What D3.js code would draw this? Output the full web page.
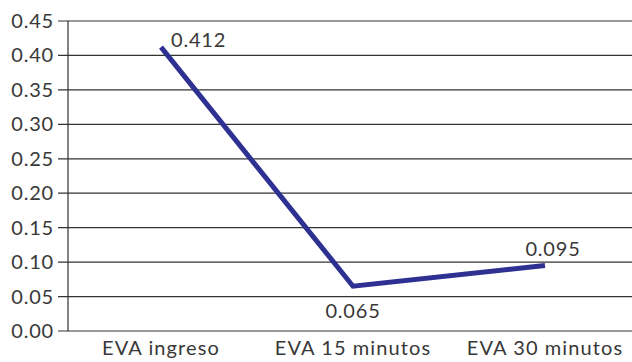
<!DOCTYPE html>
<html><head><meta charset="utf-8">
<script src="https://cdn.jsdelivr.net/npm/d3@7"></script>
<style>body{margin:0;background:#fff}</style>
</head><body>
<svg id="c" width="632" height="362"></svg>
<script>
const categories = ["EVA ingreso", "EVA 15 minutos", "EVA 30 minutos"];
const values = [0.412, 0.065, 0.095];
const labels = ["0.412", "0.065", "0.095"];
const yTicks = [0, 0.05, 0.10, 0.15, 0.20, 0.25, 0.30, 0.35, 0.40, 0.45];

(function () {
const svg = d3.select("#c");
const font = "Lato, 'Open Sans', sans-serif";
const mLeft = 68, mTop = 21, mBottom = 331;
const x = d3.scaleBand().domain(categories).range([65, 641]);
const y = d3.scaleLinear().domain([0, 0.45]).range([mBottom, mTop]);
const cx = d => x(d) + x.bandwidth() / 2;

svg.append("g").selectAll("line").data(yTicks).join("line")
  .attr("x1", mLeft - 10).attr("x2", 632)
  .attr("y1", d => y(d)).attr("y2", d => y(d))
  .attr("stroke", "#333").attr("stroke-width", 1.2);
svg.append("line").attr("x1", mLeft).attr("x2", mLeft).attr("y1", mTop).attr("y2", mBottom)
  .attr("stroke", "#333").attr("stroke-width", 1.2);
svg.append("g").selectAll("text").data(yTicks).join("text")
  .attr("x", 54).attr("y", d => y(d)).attr("dy", "0.35em")
  .attr("text-anchor", "end").attr("font-family", font).attr("font-size", 20)
  .attr("letter-spacing", 0.8).attr("fill", "#383838")
  .text(d => d.toFixed(2));
svg.append("g").selectAll("text").data(categories).join("text")
  .attr("x", d => cx(d)).attr("y", 355)
  .attr("text-anchor", "middle").attr("font-family", font).attr("font-size", 20)
  .attr("letter-spacing", 1.1).attr("fill", "#383838")
  .text(d => d);
const data = categories.map((c, i) => ({c, v: values[i], l: labels[i]}));
svg.append("path").datum(data)
  .attr("d", d3.line().x(d => cx(d.c)).y(d => y(d.v)))
  .attr("fill", "none").attr("stroke", "#2e3192").attr("stroke-width", 5);
const off = [{dx: 10, dy: 0, a: "start"}, {dx: 0, dy: 32, a: "middle"}, {dx: 8, dy: -10, a: "middle"}];
svg.append("g").selectAll("text").data(data).join("text")
  .attr("x", (d, i) => cx(d.c) + off[i].dx).attr("y", (d, i) => y(d.v) + off[i].dy)
  .attr("text-anchor", (d, i) => off[i].a).attr("font-family", font).attr("font-size", 20)
  .attr("letter-spacing", 0.8).attr("fill", "#383838")
  .text(d => d.l);
})();
</script>
</body></html>
